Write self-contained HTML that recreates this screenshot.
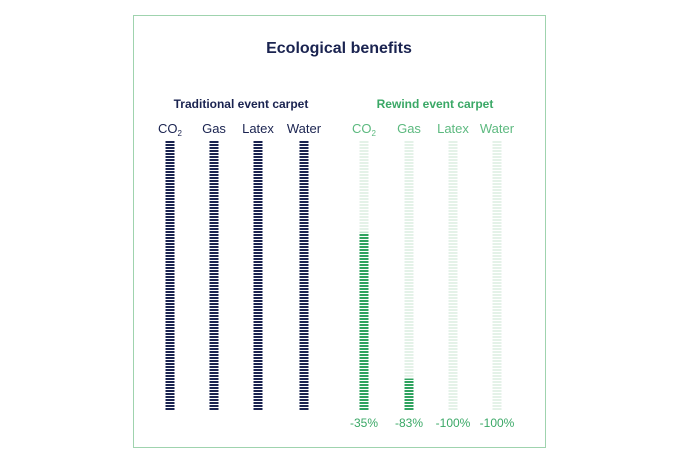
<!DOCTYPE html>
<html><head><meta charset="utf-8"><style>
html,body{margin:0;padding:0;background:#fff;}
svg{display:block;font-family:"Liberation Sans",sans-serif;}
</style></head><body>
<svg id="chart" width="680" height="464" viewBox="0 0 680 464">
<defs>
<pattern id="navyStripe" width="10" height="3" patternUnits="userSpaceOnUse"><rect width="10" height="2" fill="#1a2350"/></pattern>
<pattern id="greenStripe" width="10" height="3" patternUnits="userSpaceOnUse"><rect width="10" height="2" fill="#2fa35f"/></pattern>
<pattern id="paleStripe" width="10" height="3" patternUnits="userSpaceOnUse"><rect width="10" height="2" fill="#e4f2e8"/></pattern>
</defs>
<rect x="133.5" y="15.5" width="412" height="432" fill="#fff" stroke="#9fd3ae" stroke-width="1"/>
<text x="339" y="53" text-anchor="middle" font-size="16" font-weight="bold" fill="#1a2350">Ecological benefits</text>
<text x="241" y="108" text-anchor="middle" font-size="12" font-weight="bold" fill="#1a2350">Traditional event carpet</text>
<text x="435" y="108" text-anchor="middle" font-size="12" font-weight="bold" fill="#3aa866">Rewind event carpet</text>
<g id="marks"></g>
</svg>
<script>
const categories = ["CO2", "Gas", "Latex", "Water"];
const traditionalValues = [100, 100, 100, 100];
const rewindValues = [66, 12, 0, 0];
const rewindLabels = ["-35%", "-83%", "-100%", "-100%"];

const svgNS = "http://www.w3.org/2000/svg";
const g = document.getElementById("marks");
const yTop = 141, yBot = 411, barW = 9;
function yScale(v){ return yBot - (yBot - yTop) * v / 100; }
const leftX = [170, 214, 258, 304];
const rightX = [364, 409, 453, 497];
function mk(tag, attrs){ const e=document.createElementNS(svgNS,tag); for(const k in attrs) e.setAttribute(k,attrs[k]); g.appendChild(e); return e; }
function catLabel(x, c, color){
  const t = mk("text",{x:x, y:133, "text-anchor":"middle", "font-size":"13", fill:color});
  
  
  if(c==="CO2"){ t.textContent="CO"; const s=document.createElementNS(svgNS,"tspan"); s.setAttribute("font-size","8"); s.setAttribute("dy","3"); s.textContent="2"; t.appendChild(s);} else t.textContent=c;
}
categories.forEach((c,i)=>{
  catLabel(leftX[i], c, "#1a2350");
  const b = mk("rect",{x:leftX[i]-barW/2, y:yScale(traditionalValues[i]), width:barW, height:yBot-yScale(traditionalValues[i]), fill:"url(#navyStripe)"});
  
  
  catLabel(rightX[i], c, "#5cb97f");
  const bg = mk("rect",{x:rightX[i]-barW/2, y:yTop, width:barW, height:yBot-yTop, fill:"url(#paleStripe)"});
  
  
  const r = mk("rect",{x:rightX[i]-barW/2, y:yScale(rewindValues[i]), width:barW, height:yBot-yScale(rewindValues[i]), fill:"url(#greenStripe)"});
  
  
  const l = mk("text",{x:rightX[i], y:427, "text-anchor":"middle", "font-size":"12", fill:"#3aa866"});
  l.textContent = rewindLabels[i];
  
  
});
</script>
</body></html>
